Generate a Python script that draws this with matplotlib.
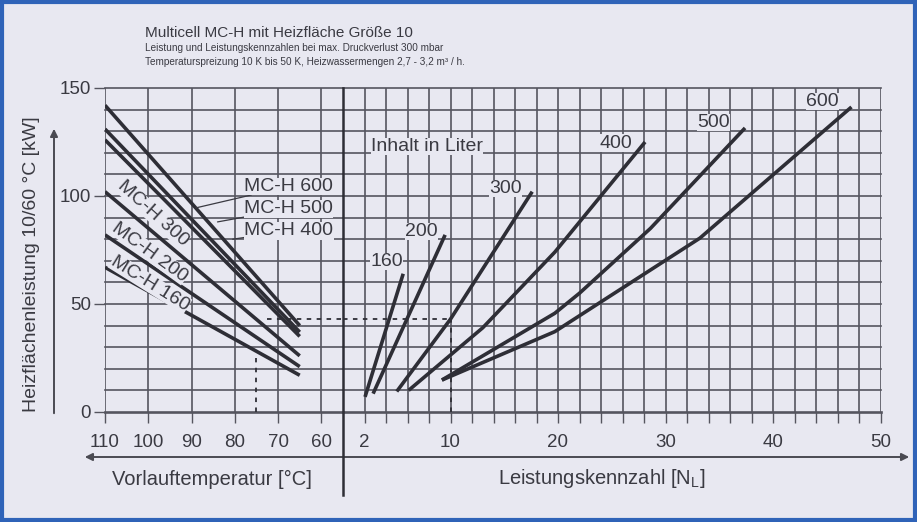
import matplotlib
matplotlib.use('Agg')
import matplotlib.pyplot as plt
from matplotlib.patches import Rectangle, FancyArrowPatch

plt.rcParams['font.family'] = ['Liberation Sans', 'DejaVu Sans']

# ---------------- texts ----------------
title = "Multicell MC-H mit Heizfläche Größe 10"
subtitle1 = "Leistung und Leistungskennzahlen bei max. Druckverlust 300 mbar"
subtitle2 = "Temperaturspreizung 10 K bis 50 K, Heizwassermengen 2,7 - 3,2 m³ / h."
y_label = "Heizflächenleistung 10/60 °C [kW]"
x_label_left = "Vorlauftemperatur [°C]"
x_label_right = r"Leistungskennzahl [N$\mathregular{_L}$]"
volume_caption = "Inhalt in Liter"

# ---------------- left panel data: power vs flow temperature ----------------
temp_points = [110, 65]
power_600 = [142, 40]
power_500 = [131, 37]
power_400 = [126, 35]
power_300 = [102, 26]
power_200 = [82, 21]
power_160 = [67, 17]
left_series = [power_600, power_500, power_400, power_300, power_200, power_160]

# rotated labels along lines (temp, power, rotation)
rot_labels = ["MC-H 300", "MC-H 200", "MC-H 160"]
rot_label_temp = [99.0, 99.6, 99.6]
rot_label_power = [92, 74, 59.5]
rot_label_angle = [-42, -36, -32]

# labels with leaders
lead_labels = ["MC-H 600", "MC-H 500", "MC-H 400"]
lead_label_temp = [77.8, 77.8, 77.8]
lead_label_power = [104.5, 94.0, 83.8]
lead_target_temp = [89.0, 84.0, 80.5]
lead_target_power = [94.5, 88.0, 80.0]

# ---------------- right panel data: power vs performance number ----------------
nl_160 = [2.05, 5.6]
kw_160 = [7.0, 64.0]
nl_200 = [2.8, 9.5]
kw_200 = [8.5, 82.0]
nl_300 = [5.0, 10.0, 17.6]
kw_300 = [9.5, 43.0, 102.0]
nl_400 = [6.1, 13.0, 19.7, 28.1]
kw_400 = [10.0, 39.0, 74.0, 125.0]
nl_500 = [9.2, 19.7, 22.0, 28.6, 37.4]
kw_500 = [14.8, 45.7, 55.0, 85.0, 131.5]
nl_600 = [9.2, 19.7, 33.2, 47.3]
kw_600 = [14.8, 37.2, 80.5, 141.2]
right_x = [nl_160, nl_200, nl_300, nl_400, nl_500, nl_600]
right_y = [kw_160, kw_200, kw_300, kw_400, kw_500, kw_600]

volume_labels = ["160", "200", "300", "400", "500", "600"]
volume_label_nl = [4.05, 7.3, 15.1, 25.4, 34.5, 44.6]
volume_label_kw = [69.6, 83.5, 103.5, 124.5, 134.0, 143.8]

# example reading (dashed)
example_temp = 75
example_power = 43
example_nl = 10
example_temp_top = 25
example_dash_start = 72.5

# ---------------- axes ticks ----------------
y_ticks = [0, 50, 100, 150]
y_ticklabels = ["0", "50", "100", "150"]
left_ticks = [110, 100, 90, 80, 70, 60]
left_ticklabels = ["110", "100", "90", "80", "70", "60"]
right_ticks = list(range(2, 51, 2))
right_ticklabels = ["2" if t == 2 else (str(t) if t % 10 == 0 else "") for t in right_ticks]
h_grid = list(range(0, 151, 10))

# ---------------- styling ----------------
W, H = 917, 522
bg = '#e8e8f1'
grid_c = '#55555f'
line_c = '#2e2e36'
text_c = '#3a3a42'
FS = 14

fig = plt.figure(figsize=(W / 100, H / 100), dpi=100, facecolor=bg)


def fx(px):
    return px / W


def fy(py):
    return 1 - py / H


x_left, x_div, x_right = 105, 343, 880.5
y_top, y_bot = 88, 412

axL = fig.add_axes([fx(x_left), fy(y_bot), fx(x_div - x_left), (y_bot - y_top) / H])
axR = fig.add_axes([fx(x_div), fy(y_bot), fx(x_right - x_div), (y_bot - y_top) / H])

for ax in (axL, axR):
    ax.set_facecolor('none')
    ax.set_ylim(0, 150)
    for s in ax.spines.values():
        s.set_visible(False)
    for v in h_grid:
        ax.axhline(v, color=grid_c, lw=1.9 if v == 0 else 1.2, zorder=1, clip_on=False)
    ax.tick_params(axis='x', direction='out', length=8, width=1.0, color=grid_c,
                   labelsize=13.5, labelcolor=text_c, pad=8)

axL.set_xlim(110, 55)
axR.set_xlim(0, 50)

for t in left_ticks:
    axL.axvline(t, color=grid_c, lw=1.2, zorder=1)
for t in right_ticks:
    axR.axvline(t, color=grid_c, lw=1.2, zorder=1)

axL.set_xticks(left_ticks, left_ticklabels)
axR.set_xticks(right_ticks, right_ticklabels)
axL.set_yticks(y_ticks, y_ticklabels)
axL.tick_params(axis='y', direction='out', length=8, width=1.0, color=grid_c,
                labelsize=13.5, labelcolor=text_c, pad=2)
axR.set_yticks([])

# left lines
for series in left_series:
    axL.plot(temp_points, series, color=line_c, lw=2.6, solid_capstyle='butt', zorder=4)

for lab, t, p, a in zip(rot_labels, rot_label_temp, rot_label_power, rot_label_angle):
    axL.text(t, p, lab, rotation=a, rotation_mode='anchor', ha='center', va='center',
             fontsize=FS, color=text_c, zorder=6,
             bbox=dict(facecolor=bg, edgecolor='none', pad=0.2))

for lab, t, p, tt, tp in zip(lead_labels, lead_label_temp, lead_label_power,
                             lead_target_temp, lead_target_power):
    axL.annotate(lab, xy=(tt, tp), xytext=(t, p), ha='left', va='center', fontsize=FS,
                 color=text_c, zorder=6, annotation_clip=False,
                 bbox=dict(facecolor=bg, edgecolor='none', pad=0.2),
                 arrowprops=dict(arrowstyle='-', color=text_c, lw=0.9,
                                 shrinkA=0, shrinkB=0))

# right curves
for xs, ys in zip(right_x, right_y):
    axR.plot(xs, ys, color=line_c, lw=2.6, solid_capstyle='butt', zorder=4)

for lab, n, k in zip(volume_labels, volume_label_nl, volume_label_kw):
    axR.text(n, k, lab, ha='center', va='center', fontsize=FS, color=text_c, zorder=6,
             bbox=dict(facecolor=bg, edgecolor='none', pad=0.2))

axR.text(2.6, 123, volume_caption, ha='left', va='center', fontsize=FS, color=text_c,
         zorder=6, bbox=dict(facecolor=bg, edgecolor='none', pad=0.2))

# dashed example reading
dash = dict(color=line_c, lw=1.3, linestyle=(0, (2.5, 3)), zorder=3)
axL.plot([example_temp, example_temp], [0, example_temp_top], **dash)
axL.plot([example_dash_start, 55], [example_power, example_power], **dash)
axR.plot([0, example_nl], [example_power, example_power], **dash)
axR.plot([example_nl, example_nl], [0, example_power], **dash)

# divider line
fig.add_artist(plt.Line2D([fx(x_div), fx(x_div)], [fy(y_top), fy(495)], color=line_c,
                          lw=1.8, zorder=5))

# horizontal double arrow
fig.add_artist(FancyArrowPatch(
    (fx(82), fy(457)), (fx(912), fy(457)), transform=fig.transFigure,
    arrowstyle='<|-|>', mutation_scale=11, color='#4a4a52', lw=1.4))
# vertical arrow on y axis
fig.add_artist(FancyArrowPatch(
    (fx(54), fy(416)), (fx(54), fy(126)), transform=fig.transFigure,
    arrowstyle='-|>', mutation_scale=11, color='#4a4a52', lw=1.4))

fig.text(fx(212), fy(479), x_label_left, ha='center', va='center', fontsize=FS + 0.5,
         color=text_c)
fig.text(fx(602), fy(479), x_label_right, ha='center', va='center', fontsize=FS + 0.5,
         color=text_c)
fig.text(fx(32), fy(264), y_label, rotation=90, ha='center', va='center', fontsize=FS,
         color=text_c)

fig.text(fx(145), fy(33), title, ha='left', va='center', fontsize=11, color=text_c)
fig.text(fx(145), fy(48), subtitle1, ha='left', va='center', fontsize=7.2, color=text_c)
fig.text(fx(145), fy(62), subtitle2, ha='left', va='center', fontsize=7.2, color=text_c)

# blue frame
fig.add_artist(Rectangle((0.002, 0.003), 0.996, 0.994, transform=fig.transFigure,
                         fill=False, edgecolor='#2f63b8', lw=3))

fig.savefig('out.png', dpi=100, facecolor=bg)
